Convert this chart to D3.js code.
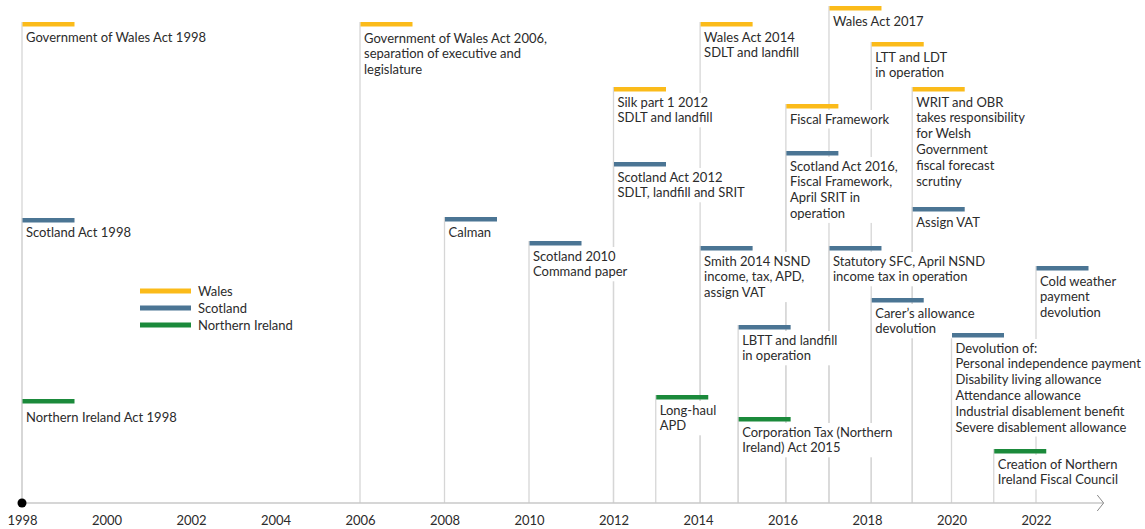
<!DOCTYPE html>
<html lang="en">
<head>
    <meta charset="UTF-8">
    <title>Fiscal devolution timeline</title>
    <style>
        body{ margin: 0; background: #fff; }
        svg{ display: block; }
        text{
            font-family: Lato, sans-serif;
            font-size: 13px;
            fill: #2b2b2b;
        }
    </style>
    <script src="https://cdn.jsdelivr.net/npm/d3@7"></script>
</head>
<body>
<script>
    const width = 1145
    const height = 529

    // event dates (fractional years), nation and label lines
    const years = [1998, 2006, 2012, 2014.05, 2016.08, 2017.1, 2018.1, 2019.07,
        1998, 2008, 2010, 2012, 2014.05, 2014.95, 2016.08, 2017.1, 2018.1, 2019.07, 2020, 2022,
        1998, 2013, 2014.95, 2021]
    const nations = ["Wales","Wales","Wales","Wales","Wales","Wales","Wales","Wales",
        "Scotland","Scotland","Scotland","Scotland","Scotland","Scotland","Scotland","Scotland","Scotland","Scotland","Scotland","Scotland",
        "Northern Ireland","Northern Ireland","Northern Ireland","Northern Ireland"]
    const labels = [
        ["Government of Wales Act 1998"],
        ["Government of Wales Act 2006,", "separation of executive and", "legislature"],
        ["Silk part 1 2012", "SDLT and landfill"],
        ["Wales Act 2014", "SDLT and landfill"],
        ["Fiscal Framework"],
        ["Wales Act 2017"],
        ["LTT and LDT", "in operation"],
        ["WRIT and OBR", "takes responsibility", "for Welsh", "Government", "fiscal forecast", "scrutiny"],
        ["Scotland Act 1998"],
        ["Calman"],
        ["Scotland 2010", "Command paper"],
        ["Scotland Act 2012", "SDLT, landfill and SRIT"],
        ["Smith 2014 NSND", "income, tax, APD,", "assign VAT"],
        ["LBTT and landfill", "in operation"],
        ["Scotland Act 2016,", "Fiscal Framework,", "April SRIT in", "operation"],
        ["Statutory SFC, April NSND", "income tax in operation"],
        ["Carer\u2019s allowance", "devolution"],
        ["Assign VAT"],
        ["Devolution of:", "Personal independence payment", "Disability living allowance", "Attendance allowance", "Industrial disablement benefit", "Severe disablement allowance"],
        ["Cold weather", "payment", "devolution"],
        ["Northern Ireland Act 1998"],
        ["Long-haul", "APD"],
        ["Corporation Tax (Northern", "Ireland) Act 2015"],
        ["Creation of Northern", "Ireland Fiscal Council"]
    ]
    const tickYears = [1998, 2000, 2002, 2004, 2006, 2008, 2010, 2012, 2014, 2016, 2018, 2020, 2022]
    const legendNames = ["Wales", "Scotland", "Northern Ireland"]

    // layout: top of each label's bar (px) and gap to first text baseline, same order as the events
    const labelTop = [22, 22, 87, 22, 104, 6, 42, 87,
        218, 217, 241, 162, 246, 325, 151, 246, 298, 207, 333, 266,
        399, 395, 417, 449]
    const textGap = [20, 20.5, 19.5, 19.5, 19.5, 19.5, 19.5, 19.5,
        19, 19.5, 19.5, 19.5, 19.5, 19.5, 19.5, 19.5, 19.5, 19.5, 19.5, 19.5,
        22.5, 19.5, 19.5, 19.5]

    const colour = d3.scaleOrdinal()
        .domain(legendNames)
        .range(["#fbbb1a", "#4b7594", "#1b8a3b"])

    const axisY = 503
    const x = d3.scaleLinear().domain([1998, 2022]).range([22, 1036])

    let svg = d3.select("body").append("svg")
        .attr("width", width).attr("height", height)

    const events = years.map((d,i)=>({year: d, nation: nations[i], lines: labels[i], top: labelTop[i], gap: textGap[i]}))

    // vertical guide lines
    svg.append("g").selectAll("line")
        .data(events)
        .enter().append("line")
        .attr("x1", d=>x(d.year)).attr("x2", d=>x(d.year))
        .attr("y1", d=>d.top).attr("y2", axisY)
        .attr("stroke", "#d6d6d6")
        .attr("stroke-width", 1.3)

    // axis line + arrow
    svg.append("line")
        .attr("x1", x(1998)).attr("x2", x(2023.6))
        .attr("y1", axisY).attr("y2", axisY)
        .attr("stroke", "#c8c8c8").attr("stroke-width", 1.5)
    svg.append("path")
        .attr("d", `M${x(2023.45)},${axisY-8}L${x(2023.6)},${axisY}L${x(2023.45)},${axisY+8}`)
        .attr("fill", "none").attr("stroke", "#8a8a8a").attr("stroke-width", 1)
    svg.append("circle")
        .attr("cx", x(1998)).attr("cy", axisY).attr("r", 4.5).attr("fill", "#000")

    let gAxis = svg.append("g")
        .attr("transform", `translate(0,${axisY})`)
        .call(d3.axisBottom(x).tickValues(tickYears).tickFormat(d3.format("d")).tickSize(0).tickPadding(13))
    gAxis.select(".domain").remove()
    gAxis.selectAll("text")
        .style("font-family", "Lato, sans-serif").style("font-size", "13px").attr("fill", "#2b2b2b")

    // event labels
    let gEvents = svg.append("g").selectAll("g")
        .data(events)
        .enter().append("g")
        .attr("transform", d=>`translate(${x(d.year)},${d.top})`)

    let bgs = gEvents.append("rect").attr("fill", "#fff")

    gEvents.append("rect")
        .attr("x", 0.5).attr("y", 0)
        .attr("width", 52).attr("height", 4.5)
        .attr("fill", d=>colour(d.nation))

    let texts = gEvents.append("text")
        .attr("x", 4).attr("y", d=>d.gap)
    texts.selectAll("tspan")
        .data(d=>d.lines)
        .enter().append("tspan")
        .attr("x", 4)
        .attr("dy", (d,i)=>i===0 ? 0 : 15.8)
        .text(d=>d)

    // white box behind the text hides other guide lines
    bgs.each(function(d){
        const bb = d3.select(this.parentNode).select("text").node().getBBox()
        d3.select(this)
            .attr("x", 2).attr("y", 6)
            .attr("width", bb.x + bb.width)
            .attr("height", bb.y + bb.height - 4)
    })

    // legend
    let gLegend = svg.append("g").selectAll("g")
        .data(legendNames)
        .enter().append("g")
        .attr("transform", (d,i)=>`translate(140,${291 + i*17})`)
    gLegend.append("rect")
        .attr("x", 0).attr("y", -2.5)
        .attr("width", 51).attr("height", 5)
        .attr("fill", d=>colour(d))
    gLegend.append("text")
        .attr("x", 58).attr("y", 4.5)
        .text(d=>d)
</script>
</body>
</html>
